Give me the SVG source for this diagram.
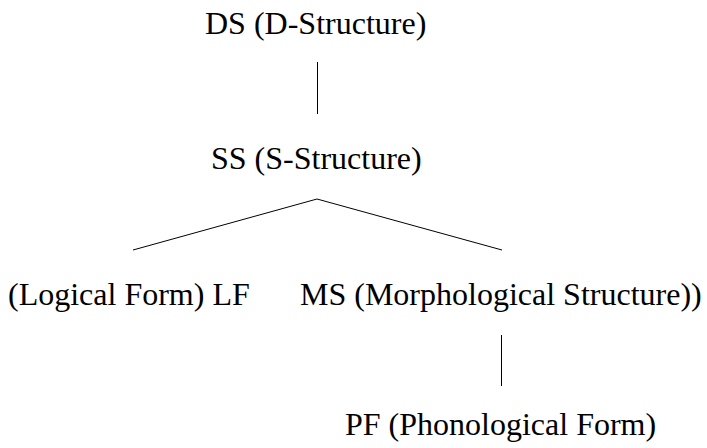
<svg xmlns="http://www.w3.org/2000/svg" width="707" height="448" viewBox="0 0 707 448">
<style>
.t{font-family:"Liberation Serif","Times New Roman",serif;font-size:32px;fill:#000}
.c{stroke:#000;stroke-width:1;fill:none}
</style>
<rect width="707" height="448" fill="#fff"/>
<g id="connectors">
<line class="c" x1="317.5" y1="62" x2="317.5" y2="114"/>
<polyline class="c" points="133,250 317,199 502,250"/>
<line class="c" x1="501.5" y1="335" x2="501.5" y2="386"/>
</g>
<g id="ds"><text class="t" x="205" y="33.5">DS (D-Structure)</text></g>
<g id="ss"><text class="t" x="211" y="169">SS (S-Structure)</text></g>
<g id="lf"><text class="t" x="8" y="305">(Logical Form) LF</text></g>
<g id="ms"><text class="t" x="300" y="305">MS (Morphological Structure))</text></g>
<g id="pf"><text class="t" x="345" y="435">PF (Phonological Form)</text></g>
</svg>
